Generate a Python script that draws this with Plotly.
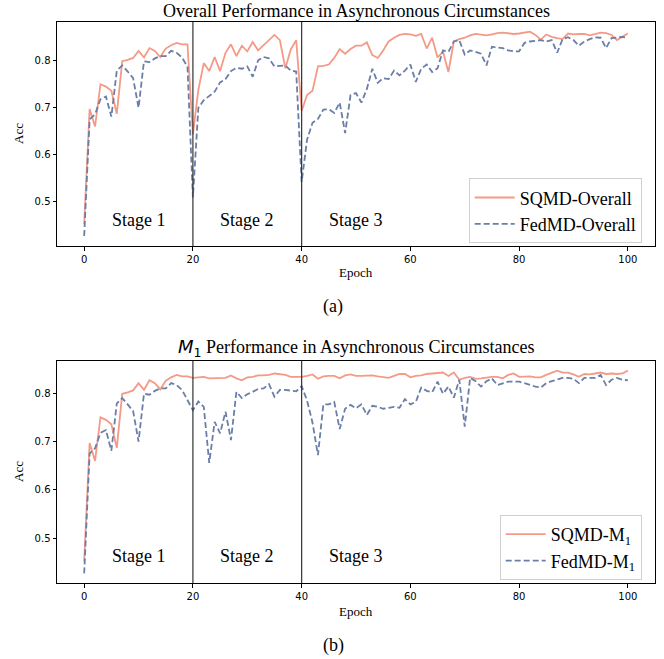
import plotly.graph_objects as go

epochs = list(range(0, 101))

sqmd_overall = [
    0.452, 0.697, 0.660, 0.750, 0.745, 0.736, 0.687, 0.799, 0.802, 0.806,
    0.821, 0.807, 0.827, 0.821, 0.808, 0.826, 0.833, 0.838, 0.835, 0.835,
    0.643, 0.738, 0.795, 0.778, 0.808, 0.778, 0.817, 0.835, 0.810, 0.832,
    0.820, 0.840, 0.822, 0.833, 0.844, 0.855, 0.844, 0.784, 0.824, 0.844,
    0.693, 0.727, 0.736, 0.788, 0.789, 0.792, 0.806, 0.825, 0.815, 0.825,
    0.832, 0.832, 0.839, 0.812, 0.806, 0.822, 0.841, 0.849, 0.855, 0.857,
    0.856, 0.853, 0.857, 0.826, 0.849, 0.807, 0.819, 0.776, 0.841, 0.846,
    0.849, 0.854, 0.857, 0.855, 0.854, 0.856, 0.859, 0.860, 0.858, 0.857,
    0.858, 0.860, 0.862, 0.855, 0.845, 0.856, 0.851, 0.848, 0.846, 0.858,
    0.856, 0.857, 0.857, 0.854, 0.857, 0.860, 0.859, 0.855, 0.844, 0.851,
    0.858,
]

fedmd_overall = [
    0.427, 0.675, 0.686, 0.718, 0.724, 0.681, 0.779, 0.790, 0.777, 0.763,
    0.700, 0.799, 0.797, 0.805, 0.810, 0.810, 0.821, 0.817, 0.807, 0.787,
    0.509, 0.700, 0.716, 0.725, 0.734, 0.754, 0.761, 0.778, 0.785, 0.783,
    0.788, 0.766, 0.801, 0.808, 0.805, 0.788, 0.789, 0.790, 0.779, 0.777,
    0.542, 0.632, 0.668, 0.676, 0.696, 0.697, 0.689, 0.711, 0.646, 0.727,
    0.731, 0.711, 0.740, 0.783, 0.753, 0.763, 0.761, 0.779, 0.769, 0.779,
    0.792, 0.755, 0.783, 0.792, 0.776, 0.784, 0.822, 0.819, 0.841, 0.844,
    0.813, 0.822, 0.819, 0.815, 0.790, 0.830, 0.828, 0.827, 0.822, 0.820,
    0.820, 0.838, 0.841, 0.842, 0.844, 0.841, 0.844, 0.817, 0.846, 0.850,
    0.844, 0.832, 0.841, 0.846, 0.850, 0.849, 0.827, 0.848, 0.850, 0.851,
    0.848,
]

sqmd_m1 = [
    0.452, 0.697, 0.660, 0.750, 0.745, 0.736, 0.687, 0.799, 0.802, 0.806,
    0.821, 0.807, 0.827, 0.821, 0.808, 0.826, 0.833, 0.838, 0.835, 0.835,
    0.832, 0.833, 0.834, 0.831, 0.831, 0.832, 0.832, 0.837, 0.831, 0.827,
    0.833, 0.834, 0.837, 0.837, 0.838, 0.841, 0.839, 0.838, 0.834, 0.834,
    0.834, 0.836, 0.839, 0.830, 0.835, 0.836, 0.836, 0.831, 0.837, 0.839,
    0.836, 0.836, 0.836, 0.837, 0.835, 0.834, 0.832, 0.836, 0.840, 0.840,
    0.833, 0.836, 0.837, 0.840, 0.841, 0.841, 0.843, 0.836, 0.843, 0.828,
    0.832, 0.834, 0.830, 0.831, 0.833, 0.834, 0.834, 0.831, 0.838, 0.841,
    0.834, 0.835, 0.835, 0.833, 0.833, 0.838, 0.843, 0.847, 0.843, 0.843,
    0.839, 0.834, 0.840, 0.839, 0.841, 0.843, 0.840, 0.841, 0.840, 0.841,
    0.847,
]

fedmd_m1 = [
    0.427, 0.675, 0.686, 0.718, 0.724, 0.681, 0.779, 0.790, 0.777, 0.763,
    0.700, 0.799, 0.797, 0.805, 0.810, 0.810, 0.821, 0.817, 0.807, 0.787,
    0.765, 0.783, 0.772, 0.656, 0.741, 0.717, 0.762, 0.703, 0.803, 0.790,
    0.798, 0.803, 0.809, 0.810, 0.819, 0.793, 0.807, 0.807, 0.806, 0.804,
    0.815, 0.785, 0.739, 0.672, 0.777, 0.777, 0.782, 0.726, 0.768, 0.776,
    0.769, 0.777, 0.755, 0.774, 0.772, 0.768, 0.770, 0.772, 0.770, 0.788,
    0.777, 0.782, 0.812, 0.805, 0.802, 0.824, 0.799, 0.814, 0.791, 0.828,
    0.731, 0.832, 0.825, 0.814, 0.825, 0.831, 0.817, 0.821, 0.824, 0.824,
    0.824, 0.821, 0.817, 0.814, 0.812, 0.821, 0.825, 0.828, 0.832, 0.832,
    0.830, 0.821, 0.832, 0.832, 0.832, 0.838, 0.817, 0.828, 0.832, 0.828,
    0.827,
]

stage_labels = ["Stage 1", "Stage 2", "Stage 3"]
stage_x = [10, 30, 50]
stage_bounds = [20, 40]
x_ticks = [0, 20, 40, 60, 80, 100]
y_ticks = [0.5, 0.6, 0.7, 0.8]

RED = "#F49A86"
BLUE = "#6B7EA8"
SERIF = "Liberation Serif"
SANS = "DejaVu Sans"

W, H = 664, 659
def px(x):
    return x / W
def py(y):
    return 1 - y / H

fig = go.Figure()

fig.add_trace(go.Scatter(x=epochs, y=sqmd_overall, mode="lines", name="SQMD-Overall",
                         line=dict(color=RED, width=1.8), xaxis="x", yaxis="y", legend="legend"))
fig.add_trace(go.Scatter(x=epochs, y=fedmd_overall, mode="lines", name="FedMD-Overall",
                         line=dict(color=BLUE, width=1.8, dash="6px,3px"), xaxis="x", yaxis="y", legend="legend"))
fig.add_trace(go.Scatter(x=epochs, y=sqmd_m1, mode="lines", name="SQMD-M<sub>1</sub>",
                         line=dict(color=RED, width=1.8), xaxis="x2", yaxis="y2", legend="legend2"))
fig.add_trace(go.Scatter(x=epochs, y=fedmd_m1, mode="lines", name="FedMD-M<sub>1</sub>",
                         line=dict(color=BLUE, width=1.8, dash="6px,3px"), xaxis="x2", yaxis="y2", legend="legend2"))

axis_common = dict(showline=True, linecolor="black", linewidth=1, mirror=True,
                   ticks="outside", ticklen=3.5, tickwidth=0.8, tickcolor="black",
                   showgrid=False, zeroline=False,
                   tickfont=dict(family=SANS, size=10, color="black"))

xdom = [px(57), px(655)]
fig.update_layout(
    width=W, height=H,
    margin=dict(l=0, r=0, t=0, b=0),
    paper_bgcolor="white", plot_bgcolor="white",
    xaxis=dict(domain=xdom, range=[-5, 105], tickvals=x_ticks, anchor="y", **axis_common),
    yaxis=dict(domain=[py(246), py(22)], range=[0.4056, 0.8825], tickvals=y_ticks,
               tickformat=".1f", anchor="x", **axis_common),
    xaxis2=dict(domain=xdom, range=[-5, 105], tickvals=x_ticks, anchor="y2", **axis_common),
    yaxis2=dict(domain=[py(583), py(360.7)], range=[0.407, 0.8675], tickvals=y_ticks,
                tickformat=".1f", anchor="x2", **axis_common),
    legend=dict(x=px(641.7), y=py(178.3), xanchor="right", yanchor="top",
                bgcolor="white", bordercolor="#d0d0d0", borderwidth=1,
                font=dict(family=SERIF, size=18, color="black"), itemwidth=40),
    legend2=dict(x=px(641.7), y=py(515), xanchor="right", yanchor="top",
                 bgcolor="white", bordercolor="#d0d0d0", borderwidth=1,
                 font=dict(family=SERIF, size=18, color="black"), itemwidth=40),
    showlegend=True,
)

shapes = []
for xa, ya in [("x", "y"), ("x2", "y2")]:
    for b in stage_bounds:
        shapes.append(dict(type="line", xref=xa, yref=ya + " domain", x0=b, x1=b, y0=0, y1=1,
                           line=dict(color="#333333", width=1.2)))
fig.update_layout(shapes=shapes)

ann = []
for xa, ya in [("x", "y"), ("x2", "y2")]:
    for lab, sx in zip(stage_labels, stage_x):
        ann.append(dict(text=lab, x=sx, y=0.462, xref=xa, yref=ya, showarrow=False,
                        xanchor="center", yanchor="middle",
                        font=dict(family=SERIF, size=18, color="black")))

ann.append(dict(text="Overall Performance in Asynchronous Circumstances", x=px(356), y=py(11),
                xref="paper", yref="paper", showarrow=False, xanchor="center", yanchor="middle",
                font=dict(family=SERIF, size=18, color="black")))
ann.append(dict(text='<span style="font-family:DejaVu Sans"><i>M</i><sub>1</sub></span> Performance in Asynchronous Circumstances',
                x=px(356), y=py(348), xref="paper", yref="paper", showarrow=False,
                xanchor="center", yanchor="middle",
                font=dict(family=SERIF, size=18, color="black")))
for yc in [134, 472]:
    ann.append(dict(text="Acc", x=px(18), y=py(yc), xref="paper", yref="paper", showarrow=False,
                    textangle=-90, xanchor="center", yanchor="middle",
                    font=dict(family=SERIF, size=13, color="black")))
for yc in [272, 611]:
    ann.append(dict(text="Epoch", x=px(356), y=py(yc), xref="paper", yref="paper", showarrow=False,
                    xanchor="center", yanchor="middle",
                    font=dict(family=SERIF, size=13, color="black")))
for lab, yc in [("(a)", 307), ("(b)", 645)]:
    ann.append(dict(text=lab, x=px(333), y=py(yc), xref="paper", yref="paper", showarrow=False,
                    xanchor="center", yanchor="middle",
                    font=dict(family=SERIF, size=18, color="black")))
fig.update_layout(annotations=ann)

fig.write_html("out.html", config={"displayModeBar": False},
               post_script="document.body.style.margin='0';document.body.style.overflow='hidden';")
